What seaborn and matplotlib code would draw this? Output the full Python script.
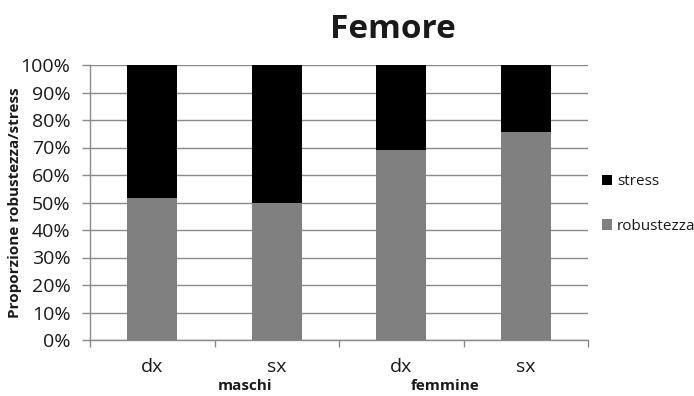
import matplotlib
matplotlib.use("Agg")
import matplotlib.pyplot as plt
import seaborn as sns
import pandas as pd
import numpy as np
from matplotlib.ticker import FixedLocator, PercentFormatter

groups = ["maschi", "maschi", "femmine", "femmine"]
sides = ["dx", "sx", "dx", "sx"]
robustezza = [51.5, 50.0, 69.0, 75.8]
stress = [48.5, 50.0, 31.0, 24.2]

sns.set_theme(style="white")
plt.rcParams['font.family'] = ['Open Sans', 'DejaVu Sans']

keys = [f"{g} {s}" for g, s in zip(groups, sides)]
df = pd.DataFrame({"key": keys, "side": sides, "group": groups,
                   "robustezza": robustezza, "stress": stress})
df["totale"] = df["robustezza"] + df["stress"]

fig = plt.figure(figsize=(6.94, 3.96), dpi=100)
ax = fig.add_axes([90/694, 1-340/396, (588-90)/694, (340-65)/396])

sns.barplot(data=df, x="key", y="totale", order=keys, color="#000000",
            width=0.4, ax=ax, saturation=1, label="stress", zorder=3,
            edgecolor="none", linewidth=0)
sns.barplot(data=df, x="key", y="robustezza", order=keys, color="#808080",
            width=0.4, ax=ax, saturation=1, label="robustezza", zorder=3,
            edgecolor="none", linewidth=0)

ax.set_ylim(0, 100)
ax.set_xlim(-0.5, 3.5)
ax.yaxis.set_major_locator(FixedLocator(np.arange(0, 101, 10)))
ax.yaxis.set_major_formatter(PercentFormatter(decimals=0))
ax.grid(axis="y", color="#8a8a8a", linewidth=1.0, zorder=0)
ax.set_axisbelow(True)
for s in ["top", "right"]:
    ax.spines[s].set_visible(False)
for s in ["left", "bottom"]:
    ax.spines[s].set_color("#8a8a8a")
    ax.spines[s].set_linewidth(1.0)

ax.set_xticks(range(4))
ax.set_xticklabels(sides)
ax.set_xticks(np.arange(-0.5, 4.0, 1.0), minor=True)
ax.tick_params(axis="x", which="major", length=0, labelsize=14, pad=13, colors="#1a1a1a")
ax.tick_params(axis="x", which="minor", length=5, color="#8a8a8a", width=1, direction="out", bottom=True)
ax.tick_params(axis="y", which="major", length=6, color="#8a8a8a", width=1, direction="out", left=True,
               labelsize=14, pad=8, colors="#1a1a1a")
ax.set_xlabel("")
ax.set_ylabel("Proporzione robustezza/stress", fontsize=11, fontweight="bold", labelpad=0, color="#1a1a1a")
ax.yaxis.set_label_coords(-0.136, 0.5)

fig.text(245/694, 1-386/396, "maschi", ha="center", va="center", fontsize=11, fontweight="bold", color="#1a1a1a")
fig.text(445/694, 1-386/396, "femmine", ha="center", va="center", fontsize=11, fontweight="bold", color="#1a1a1a")

fig.text(393/694, 1-30/396, "Femore", ha="center", va="center", fontsize=24, fontweight="bold", color="#1a1a1a")

handles, labels = ax.get_legend_handles_labels()
leg = ax.legend(handles, labels, loc="center left", bbox_to_anchor=(588/694, 1-204/396),
                bbox_transform=fig.transFigure, frameon=False, fontsize=11,
                handlelength=0.7, handleheight=0.7, handletextpad=0.3, labelspacing=1.9)
for t in leg.get_texts():
    t.set_color("#1a1a1a")

fig.savefig("out.png", dpi=100)
